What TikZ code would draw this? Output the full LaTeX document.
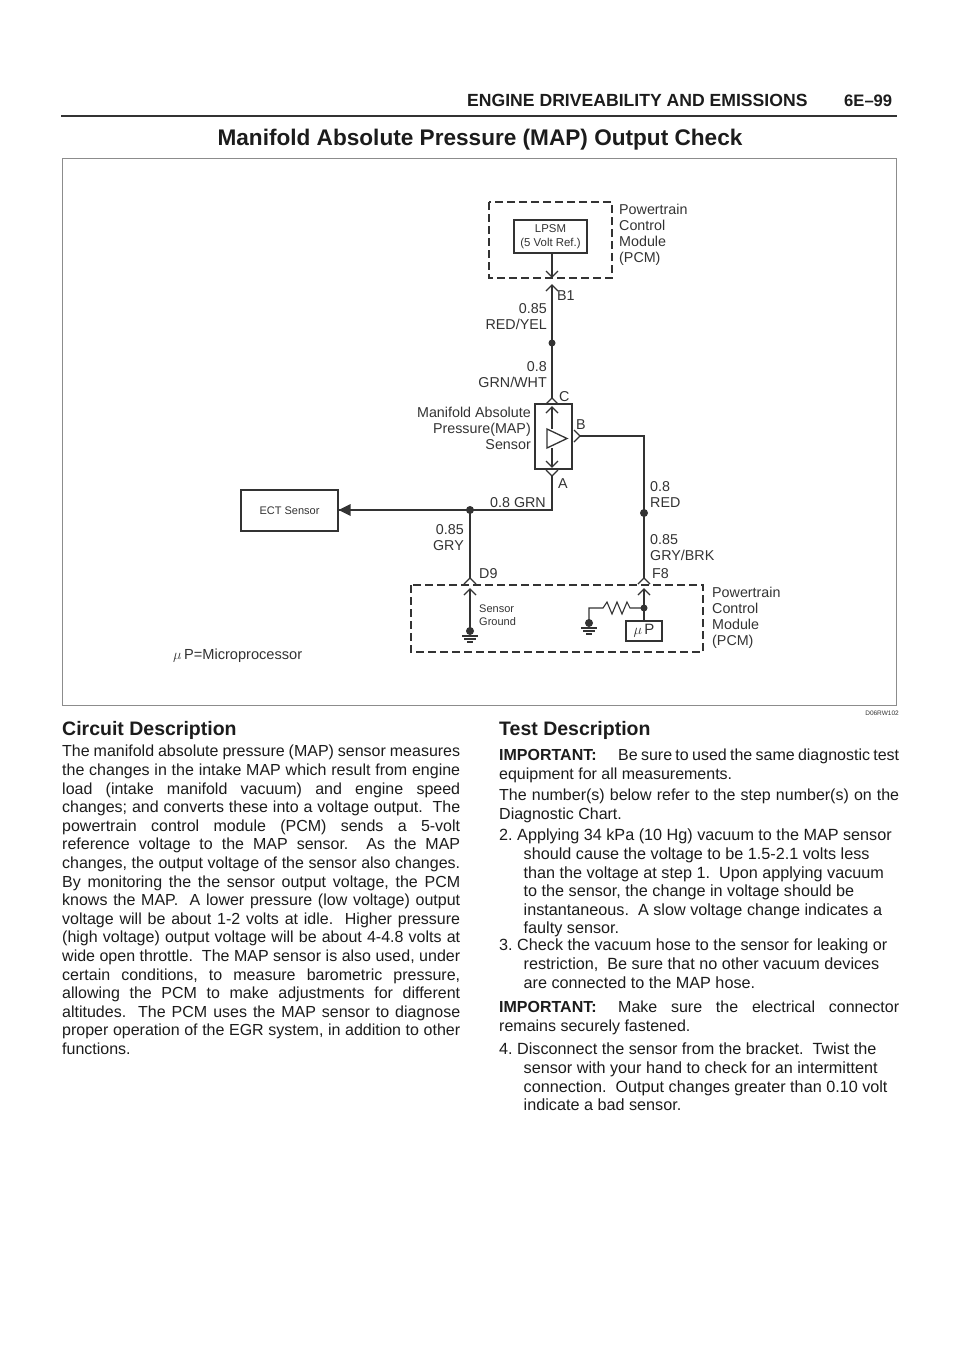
\documentclass[tikz,border=0pt]{standalone}
\usepackage{fontspec}
\setmainfont{Liberation Sans}
\frenchspacing
\def\chevup(#1){\draw[wire] ($(#1)+(-6,6)$) -- (#1) -- ($(#1)+(6,6)$);}
\def\chevdown(#1){\draw[wire] ($(#1)+(-6,-6)$) -- (#1) -- ($(#1)+(6,-6)$);}
\def\chevright(#1){\draw[wire] ($(#1)+(-6,-6)$) -- (#1) -- ($(#1)+(-6,6)$);}
\def\earth(#1){
	\fill[ink] (#1) circle (4);
	\draw[wire] ($(#1)+(-8,5)$) -- ($(#1)+(8,5)$);
	\draw[wire] ($(#1)+(-6,8)$) -- ($(#1)+(6,8)$);
	\draw[wire] ($(#1)+(-3,11)$) -- ($(#1)+(3,11)$);
}
\def\steptext#1{\parbox[t]{400pt}{\raggedright\hangindent=24.5pt\hangafter=1\relax #1}}
\usetikzlibrary{calc}
\definecolor{ink}{HTML}{333333}
\definecolor{pagetext}{HTML}{1C1C1C}
\tikzset{
	x=1pt, y=-1pt,
	wire/.style={line width=1.1pt, color=ink},
	heavy/.style={line width=1.7pt, color=ink},
	box/.style={draw=ink, line width=1.2pt, inner sep=0pt, text=ink},
	module/.style={draw=ink, line width=1.3pt, dash pattern=on 8pt off 4pt},
	dot/.style={circle, fill=ink, inner sep=0pt, minimum size=8pt},
	label/.style={inner sep=0pt, text=ink, font=\fontsize{14.3}{16}\selectfont},
	tiny/.style={inner sep=0pt, text=ink, font=\fontsize{11}{12.4}\selectfont},
	para/.style={inner sep=0pt, anchor=north west, text=pagetext, text width=#1, align=justify, font=\fontsize{16}{18.6}\selectfont},
	stepitem/.style={inner sep=0pt, anchor=north west, text=pagetext, font=\fontsize{16.2}{18.6}\selectfont},
	heading/.style={inner sep=0pt, anchor=west, text=pagetext, font=\fontsize{19.5}{24}\selectfont\bfseries},
}
\begin{document}
\begin{tikzpicture}
	\useasboundingbox (0,0) rectangle (960,1358);
	\fill[white] (0,0) rectangle (960,1358);

	%%%%% HEADER %%%%%
	\node[heading, font=\fontsize{17.6}{20}\selectfont\bfseries] (chapter) at (467,100) {ENGINE DRIVEABILITY AND EMISSIONS};
	\node[heading, font=\fontsize{16.6}{20}\selectfont\bfseries] (pageno) at (844,101) {6E--99};
	\draw[line width=2pt, color=ink] (61,116) -- (897,116);
	\node[heading, anchor=center, font=\fontsize{22.6}{27}\selectfont\bfseries] (title) at (480,140) {Manifold Absolute Pressure (MAP) Output Check};
	\draw[line width=0.7pt, color=black!45] (62,158) rectangle (896,705);
	\node[anchor=east, inner sep=0pt, text=ink, font=\fontsize{6.5}{8}\selectfont] (figno) at (899,713) {D06RW102};

	%%%%% UPPER PCM %%%%%
	\draw[module] (489,202) rectangle (612,278);
	\node[box, minimum width=73pt, minimum height=33pt, tiny, draw=ink, align=center, font=\fontsize{11.4}{14}\selectfont] (lpsm) at (550.5,236.5) {LPSM\\(5 Volt Ref.)};
	\node[label, anchor=north west, align=left] (pcmtop) at (619,204) {Powertrain\\Control\\Module\\(PCM)};

	\coordinate (b1in) at (552,277);
	\coordinate (b1) at (552,285);
	\coordinate (splice) at (552,343);
	\coordinate (c) at (552,398);
	\draw[heavy] (lpsm.south -| b1in) -- (b1in);
	\chevdown(b1in)
	\chevup(b1)
	\draw[heavy] (b1) -- (c);
	\chevup(c)
	\node[dot, minimum size=7pt] (splicedot) at (splice) {};

	\node[label, anchor=west] (b1txt) at (557,296) {B1};
	\node[label, anchor=north east, align=right] (redyel) at (547,303) {0.85\\RED/YEL};
	\node[label, anchor=north east, align=right] (grnwht) at (547,361) {0.8\\GRN/WHT};
	\node[label, anchor=west] (ctxt) at (559,397) {C};

	%%%%% MAP SENSOR %%%%%
	\node[box, minimum width=37pt, minimum height=65pt] (map) at (553.5,436.5) {};
	\coordinate (inup) at (552,407);
	\coordinate (indown) at (552,467);
	\draw[wire, line width=1.3pt] (547,429) -- (567,438.5) -- (547,448) -- cycle;
	\draw[heavy] (inup) -- (552,429);
	\draw[wire] (552,448) -- (indown);
	\chevup(inup)
	\chevdown(indown)
	\node[label, anchor=north east, align=right] (maptxt) at (531,407) {Manifold Absolute\\Pressure(MAP)\\Sensor};
	\node[label, anchor=west] (btxt) at (576,425) {B};
	\node[label, anchor=west] (atxt) at (558,484) {A};

	%%%%% GROUND SIDE %%%%%
	\coordinate (a) at (552,476);
	\coordinate (acorner) at (552,510);
	\coordinate (tee) at (470,510);
	\coordinate (d9) at (470,578);
	\node[box, minimum width=97pt, minimum height=41pt, font=\fontsize{11}{13}\selectfont] (ect) at (289.5,510.5) {ECT Sensor};
	\chevdown(a)
	\draw[wire] (a) -- (acorner) -- (tee);
	\draw[wire] (tee) -- (ect.east |- tee);
	\fill[ink] (ect.east |- tee) -- ++(12,-6) -- ++(0,12) -- cycle;
	\draw[heavy] (tee) -- (d9);
	\node[dot] (teedot) at (tee) {};
	\chevup(d9)
	\node[label, anchor=east] (grn) at (546,503) {0.8 GRN};
	\node[label, anchor=north east, align=right] (gry) at (464,524) {0.85\\GRY};
	\node[label, anchor=west] (d9txt) at (479,574) {D9};

	%%%%% SIGNAL SIDE %%%%%
	\coordinate (b) at (580,436);
	\coordinate (bcorner) at (644,436);
	\coordinate (f8) at (644,578);
	\coordinate (signal) at (644,513);
	\chevright(b)
	\draw[heavy] (b) -- (bcorner) -- (f8);
	\node[dot] (signaldot) at (signal) {};
	\chevup(f8)
	\node[label, anchor=north west, align=left] (red) at (650,481) {0.8\\RED};
	\node[label, anchor=north west, align=left] (grybrk) at (650,534) {0.85\\GRY/BRK};
	\node[label, anchor=west] (f8txt) at (652,574) {F8};

	%%%%% LOWER PCM %%%%%
	\draw[module] (411,585) rectangle (703,652);
	\node[label, anchor=north west, align=left] (pcmlow) at (712,587) {Powertrain\\Control\\Module\\(PCM)};
	\coordinate (d9in) at (470,589);
	\coordinate (gndleft) at (470,631);
	\chevup(d9in)
	\draw[wire] (d9in) -- (gndleft);
	\earth(gndleft)
	\node[tiny, anchor=north west, align=left] (sensorgnd) at (479,605) {Sensor\\Ground};

	\node[box, minimum width=36pt, minimum height=20pt, font=\fontsize{15}{17}\selectfont] (up) at (644,631) {$\mu$\,P};
	\coordinate (f8in) at (644,589);
	\coordinate (rjoin) at (644,608);
	\coordinate (rleft) at (589,608);
	\coordinate (gndright) at (589,623);
	\chevup(f8in)
	\draw[heavy] (f8in) -- (rjoin);
	\draw[wire] (rjoin) -- (up.north);
	\draw[wire] (rjoin) -- (630,608) -- (627,602) -- (622,614) -- (617,602) -- (612,614) -- (607,602) -- (603,608) -- (rleft) -- (gndright);
	\node[dot, minimum size=7pt] (rdot) at (rjoin) {};
	\earth(gndright)

	\node[inner sep=0pt, anchor=west, text=ink, font=\fontsize{14.6}{16}\selectfont] (legend) at (173,656) {$\mu$\,P=Microprocessor};

	%%%%% LEFT COLUMN %%%%%
	\node[heading] (circuit) at (62,730) {Circuit Description};
	\node[para=398pt] (circuitbody) at (62,745) {The manifold absolute pressure (MAP) sensor measures\linebreak
	the changes in the intake MAP which result from engine\linebreak
	load (intake manifold vacuum) and engine speed\linebreak
	changes; and converts these into a voltage output.\ \ The\linebreak
	powertrain control module (PCM) sends a 5-volt\linebreak
	reference voltage to the MAP sensor.\ \ As the MAP\linebreak
	changes, the output voltage of the sensor also changes.\linebreak
	By monitoring the the sensor output voltage, the PCM\linebreak
	knows the MAP.\ \ A lower pressure (low voltage) output\linebreak
	voltage will be about 1-2 volts at idle.\ \ Higher pressure\linebreak
	(high voltage) output voltage will be about 4-4.8 volts at\linebreak
	wide open throttle.\ \ The MAP sensor is also used, under\linebreak
	certain conditions, to measure barometric pressure,\linebreak
	allowing the PCM to make adjustments for different\linebreak
	altitudes.\ \ The PCM uses the MAP sensor to diagnose\linebreak
	proper operation of the EGR system, in addition to other\linebreak
	functions.};

	%%%%% RIGHT COLUMN %%%%%
	\node[heading] (testdesc) at (499,730) {Test Description};
	\node[para=400pt] (imp1) at (499,749) {\makebox[119pt][l]{\textbf{IMPORTANT:}}Be sure to used the same diagnostic test\linebreak
	equipment for all measurements.};
	\node[para=400pt] (numbers) at (499,789) {The number(s) below refer to the step number(s) on the\linebreak
	Diagnostic Chart.};
	\node[stepitem] (step2) at (499,829) {\steptext{2. Applying 34 kPa (10 Hg) vacuum to the MAP sensor\newline
	should cause the voltage to be 1.5-2.1 volts less\newline
	than the voltage at step 1.\ \ Upon applying vacuum\newline
	to the sensor, the change in voltage should be\newline
	instantaneous.\ \ A slow voltage change indicates a\newline
	faulty sensor.}};
	\node[stepitem] (step3) at (499,939) {\steptext{3. Check the vacuum hose to the sensor for leaking or\newline
	restriction,\ \ Be sure that no other vacuum devices\newline
	are connected to the MAP hose.}};
	\node[para=400pt] (imp2) at (499,1001) {\makebox[119pt][l]{\textbf{IMPORTANT:}}Make sure the electrical connector\linebreak
	remains securely fastened.};
	\node[stepitem] (step4) at (499,1043) {\steptext{4. Disconnect the sensor from the bracket.\ \ Twist the\newline
	sensor with your hand to check for an intermittent\newline
	connection.\ \ Output changes greater than 0.10 volt\newline
	indicate a bad sensor.}};
\end{tikzpicture}
\end{document}
